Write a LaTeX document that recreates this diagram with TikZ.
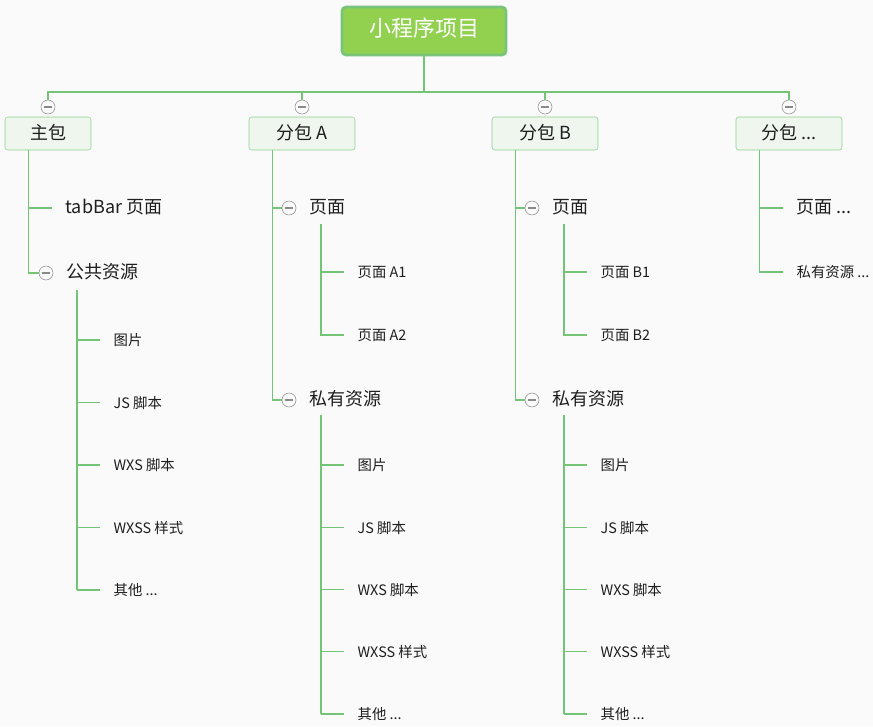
\documentclass[tikz,border=0pt]{standalone}
\usepackage{fontspec}
\setmainfont{Noto Sans CJK SC}
\usetikzlibrary{positioning}
\definecolor{bg}{HTML}{FAFAFA}
\definecolor{rootfill}{HTML}{92D050}
\definecolor{rootdraw}{HTML}{78C47A}
\definecolor{pkgfill}{HTML}{EEF6EE}
\definecolor{pkgdraw}{HTML}{8DD08F}
\definecolor{branch}{HTML}{74C476}
\definecolor{knobgray}{HTML}{8A8A8A}
\definecolor{ink}{HTML}{1E1E1E}
\newcommand{\moredots}{...}

\begin{document}
\begin{tikzpicture}[
    x=0.75pt,y=-0.75pt,
    root/.style={draw=rootdraw,line width=2pt,fill=rootfill,rounded corners=3pt,minimum width=123pt,minimum height=36pt,text=white,text height=0.86em,text depth=0em,font=\fontsize{16.5}{19}\selectfont},
    pkg/.style={draw=pkgdraw,fill=pkgfill,rounded corners=2pt,minimum width=79.5pt,minimum height=24.75pt,inner sep=0pt,text=ink,text height=0.86em,text depth=0em,font=\fontsize{13.5}{16}\selectfont},
    knob/.style={circle,draw=knobgray,fill=bg,minimum size=10.5pt,inner sep=0pt,
      path picture={\draw[knobgray,line width=0.8pt] ([xshift=-3.2pt]path picture bounding box.center) -- ([xshift=3.2pt]path picture bounding box.center);}},
    item/.style={anchor=west,inner sep=0pt,text=ink,text height=0.88em,text depth=0em,font=\fontsize{13.5}{16}\selectfont},
    leaf/.style={anchor=west,inner xsep=10pt,inner ysep=0pt,text=ink,text height=0.88em,text depth=0em,font=\fontsize{10.8}{13}\selectfont},
    big/.style={font=\fontsize{13.5}{16}\selectfont},
    link/.style={draw=branch,line width=0.9pt},
    bar/.style={link,line width=1.4pt}
]
\fill[bg] (0,0) rectangle (873,726);
\useasboundingbox (0,0) rectangle (873,726);

% root and hub
\node[root] (root) at (424,31) {小程序项目};
\coordinate (hub) at (424,92);
\draw[link] (root) -- (hub);

% main package
\node[pkg,minimum width=64.5pt] (main) at (48,133.5) {主包};
\node[knob] (kmain) at (48,107) {};
\coordinate (mainbar) at ([xshift=18pt]main.south west);
\node[leaf,big] (tabbar) at (52,208) {tabBar 页面};
\draw[link] (mainbar) |- (tabbar.west);
\node[knob] (kpub) at (46,273) {};
\node[item,right=10pt of kpub] (pub) {公共资源};
\draw[link] (mainbar) |- (kpub.west);
\coordinate (pubbar) at (77,290);
\foreach \t [count=\i] in {图片,JS 脚本,WXS 脚本,WXSS 样式,其他 \moredots} {
  \node[leaf] (pub\i) at (100,{340+62.5*(\i-1)}) {\t};
  \draw[link] (pubbar |- pub\i.west) -- (pub\i.west);
}
\draw[bar] (pubbar) -- (pubbar |- pub5.west);

% sub packages A and B
\foreach \p/\cx in {A/302,B/545} {
  \node[pkg] (pkg\p) at (\cx,133.5) {分包 \p};
  \node[knob] (kpkg\p) at (\cx,107) {};
  \coordinate (bar\p) at ([xshift=18pt]pkg\p.south west);
  \node[knob] (kpage\p) at (\cx-13,208) {};
  \node[item,right=10pt of kpage\p] (page\p) {页面};
  \node[knob] (kres\p) at (\cx-13,400) {};
  \node[item,right=10pt of kres\p] (res\p) {私有资源};
  \draw[link] (bar\p) |- (kpage\p.west);
  \draw[link] (bar\p) |- (kres\p.west);
  % pages
  \coordinate (pagebar\p) at (\cx+19,224);
  \foreach \i in {1,2} {
    \node[leaf] (page\p\i) at (\cx+42,{272+63*(\i-1)}) {页面 \p\i};
    \draw[link] (pagebar\p) |- (page\p\i.west);
  }
  % private resources
  \coordinate (resbar\p) at (\cx+19,415);
  \foreach \t [count=\i] in {图片,JS 脚本,WXS 脚本,WXSS 样式,其他 \moredots} {
    \node[leaf] (res\p\i) at (\cx+42,{465+62.25*(\i-1)}) {\t};
    \draw[link] (resbar\p |- res\p\i.west) -- (res\p\i.west);
  }
  \draw[bar] (resbar\p) -- (resbar\p |- res\p5.west);
}

% more packages
\node[pkg] (more) at (789,133.5) {分包 \moredots};
\node[knob] (kmore) at (789,107) {};
\coordinate (morebar) at ([xshift=18pt]more.south west);
\node[leaf,big] (morepage) at (783,208) {页面 \moredots};
\node[leaf] (moreres) at (783,272) {私有资源 \moredots};
\draw[link] (morebar) |- (morepage.west);
\draw[link] (morebar) |- (moreres.west);

% hub to packages
\foreach \k in {kmain,kpkgA,kpkgB,kmore}
  \draw[link] (hub) -| (\k.north);
\end{tikzpicture}
\end{document}
